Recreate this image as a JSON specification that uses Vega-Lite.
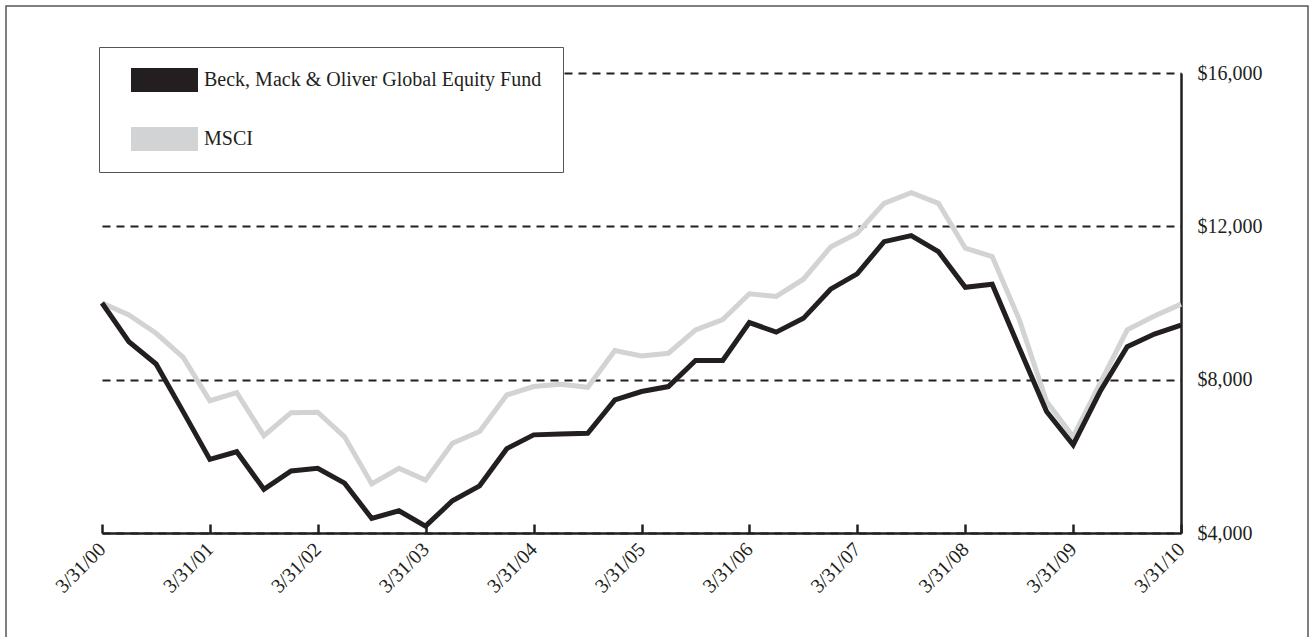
{
  "$schema": "https://vega.github.io/schema/vega-lite/v6.json",
  "width": 1302,
  "height": 640,
  "autosize": {"type": "none"},
  "padding": {"left": 6, "top": 6, "right": 5, "bottom": 0},
  "background": "white",
  "config": {
    "view": {"stroke": "#555555", "strokeWidth": 1.5},
    "font": "Liberation Serif",
    "axis": {"labelFont": "Liberation Serif", "labelColor": "#231f20", "domainColor": "#231f20", "tickColor": "#231f20"}
  },
  "data": {
    "values": [
      {"date": "2000-03-31", "series": "MSCI", "value": 10000},
      {"date": "2000-06-30", "series": "MSCI", "value": 9690},
      {"date": "2000-09-30", "series": "MSCI", "value": 9210},
      {"date": "2000-12-31", "series": "MSCI", "value": 8580},
      {"date": "2001-03-31", "series": "MSCI", "value": 7450},
      {"date": "2001-06-30", "series": "MSCI", "value": 7660},
      {"date": "2001-09-30", "series": "MSCI", "value": 6540},
      {"date": "2001-12-31", "series": "MSCI", "value": 7140},
      {"date": "2002-03-31", "series": "MSCI", "value": 7150},
      {"date": "2002-06-30", "series": "MSCI", "value": 6510},
      {"date": "2002-09-30", "series": "MSCI", "value": 5280},
      {"date": "2002-12-31", "series": "MSCI", "value": 5690},
      {"date": "2003-03-31", "series": "MSCI", "value": 5380},
      {"date": "2003-06-30", "series": "MSCI", "value": 6340},
      {"date": "2003-09-30", "series": "MSCI", "value": 6650},
      {"date": "2003-12-31", "series": "MSCI", "value": 7600},
      {"date": "2004-03-31", "series": "MSCI", "value": 7820},
      {"date": "2004-06-30", "series": "MSCI", "value": 7880},
      {"date": "2004-09-30", "series": "MSCI", "value": 7800},
      {"date": "2004-12-31", "series": "MSCI", "value": 8760},
      {"date": "2005-03-31", "series": "MSCI", "value": 8620},
      {"date": "2005-06-30", "series": "MSCI", "value": 8690},
      {"date": "2005-09-30", "series": "MSCI", "value": 9300},
      {"date": "2005-12-31", "series": "MSCI", "value": 9570},
      {"date": "2006-03-31", "series": "MSCI", "value": 10240},
      {"date": "2006-06-30", "series": "MSCI", "value": 10170},
      {"date": "2006-09-30", "series": "MSCI", "value": 10620},
      {"date": "2006-12-31", "series": "MSCI", "value": 11460},
      {"date": "2007-03-31", "series": "MSCI", "value": 11820},
      {"date": "2007-06-30", "series": "MSCI", "value": 12600},
      {"date": "2007-09-30", "series": "MSCI", "value": 12880},
      {"date": "2007-12-31", "series": "MSCI", "value": 12600},
      {"date": "2008-03-31", "series": "MSCI", "value": 11430},
      {"date": "2008-06-30", "series": "MSCI", "value": 11210},
      {"date": "2008-09-30", "series": "MSCI", "value": 9560},
      {"date": "2008-12-31", "series": "MSCI", "value": 7430},
      {"date": "2009-03-31", "series": "MSCI", "value": 6510},
      {"date": "2009-06-30", "series": "MSCI", "value": 7900},
      {"date": "2009-09-30", "series": "MSCI", "value": 9300},
      {"date": "2009-12-31", "series": "MSCI", "value": 9660},
      {"date": "2010-03-31", "series": "MSCI", "value": 9970},
      {"date": "2000-03-31", "series": "Beck, Mack & Oliver Global Equity Fund", "value": 10000},
      {"date": "2000-06-30", "series": "Beck, Mack & Oliver Global Equity Fund", "value": 8990},
      {"date": "2000-09-30", "series": "Beck, Mack & Oliver Global Equity Fund", "value": 8410},
      {"date": "2000-12-31", "series": "Beck, Mack & Oliver Global Equity Fund", "value": 7160},
      {"date": "2001-03-31", "series": "Beck, Mack & Oliver Global Equity Fund", "value": 5920},
      {"date": "2001-06-30", "series": "Beck, Mack & Oliver Global Equity Fund", "value": 6120},
      {"date": "2001-09-30", "series": "Beck, Mack & Oliver Global Equity Fund", "value": 5140},
      {"date": "2001-12-31", "series": "Beck, Mack & Oliver Global Equity Fund", "value": 5620},
      {"date": "2002-03-31", "series": "Beck, Mack & Oliver Global Equity Fund", "value": 5690},
      {"date": "2002-06-30", "series": "Beck, Mack & Oliver Global Equity Fund", "value": 5300},
      {"date": "2002-09-30", "series": "Beck, Mack & Oliver Global Equity Fund", "value": 4380},
      {"date": "2002-12-31", "series": "Beck, Mack & Oliver Global Equity Fund", "value": 4580},
      {"date": "2003-03-31", "series": "Beck, Mack & Oliver Global Equity Fund", "value": 4180},
      {"date": "2003-06-30", "series": "Beck, Mack & Oliver Global Equity Fund", "value": 4840},
      {"date": "2003-09-30", "series": "Beck, Mack & Oliver Global Equity Fund", "value": 5230},
      {"date": "2003-12-31", "series": "Beck, Mack & Oliver Global Equity Fund", "value": 6200},
      {"date": "2004-03-31", "series": "Beck, Mack & Oliver Global Equity Fund", "value": 6560},
      {"date": "2004-06-30", "series": "Beck, Mack & Oliver Global Equity Fund", "value": 6580},
      {"date": "2004-09-30", "series": "Beck, Mack & Oliver Global Equity Fund", "value": 6600},
      {"date": "2004-12-31", "series": "Beck, Mack & Oliver Global Equity Fund", "value": 7470},
      {"date": "2005-03-31", "series": "Beck, Mack & Oliver Global Equity Fund", "value": 7690},
      {"date": "2005-06-30", "series": "Beck, Mack & Oliver Global Equity Fund", "value": 7820},
      {"date": "2005-09-30", "series": "Beck, Mack & Oliver Global Equity Fund", "value": 8500},
      {"date": "2005-12-31", "series": "Beck, Mack & Oliver Global Equity Fund", "value": 8500},
      {"date": "2006-03-31", "series": "Beck, Mack & Oliver Global Equity Fund", "value": 9490},
      {"date": "2006-06-30", "series": "Beck, Mack & Oliver Global Equity Fund", "value": 9240},
      {"date": "2006-09-30", "series": "Beck, Mack & Oliver Global Equity Fund", "value": 9600},
      {"date": "2006-12-31", "series": "Beck, Mack & Oliver Global Equity Fund", "value": 10360},
      {"date": "2007-03-31", "series": "Beck, Mack & Oliver Global Equity Fund", "value": 10760},
      {"date": "2007-06-30", "series": "Beck, Mack & Oliver Global Equity Fund", "value": 11600},
      {"date": "2007-09-30", "series": "Beck, Mack & Oliver Global Equity Fund", "value": 11760},
      {"date": "2007-12-31", "series": "Beck, Mack & Oliver Global Equity Fund", "value": 11340},
      {"date": "2008-03-31", "series": "Beck, Mack & Oliver Global Equity Fund", "value": 10410},
      {"date": "2008-06-30", "series": "Beck, Mack & Oliver Global Equity Fund", "value": 10490},
      {"date": "2008-09-30", "series": "Beck, Mack & Oliver Global Equity Fund", "value": 8820},
      {"date": "2008-12-31", "series": "Beck, Mack & Oliver Global Equity Fund", "value": 7170},
      {"date": "2009-03-31", "series": "Beck, Mack & Oliver Global Equity Fund", "value": 6300},
      {"date": "2009-06-30", "series": "Beck, Mack & Oliver Global Equity Fund", "value": 7690},
      {"date": "2009-09-30", "series": "Beck, Mack & Oliver Global Equity Fund", "value": 8860},
      {"date": "2009-12-31", "series": "Beck, Mack & Oliver Global Equity Fund", "value": 9190},
      {"date": "2010-03-31", "series": "Beck, Mack & Oliver Global Equity Fund", "value": 9420}
    ]
  },
  "mark": {"type": "line", "strokeWidth": 5, "strokeJoin": "miter", "clip": false},
  "encoding": {
    "x": {
      "field": "date",
      "type": "temporal",
      "scale": {
        "type": "utc",
        "domain": [{"year": 2000, "month": 3, "date": 31, "utc": true}, {"year": 2010, "month": 3, "date": 31, "utc": true}],
        "range": [96, 1175],
        "nice": false
      },
      "axis": {
        "title": null,
        "format": "%-m/%d/%y",
        "values": [
          {"year": 2000, "month": 3, "date": 31, "utc": true},
          {"year": 2001, "month": 3, "date": 31, "utc": true},
          {"year": 2002, "month": 3, "date": 31, "utc": true},
          {"year": 2003, "month": 3, "date": 31, "utc": true},
          {"year": 2004, "month": 3, "date": 31, "utc": true},
          {"year": 2005, "month": 3, "date": 31, "utc": true},
          {"year": 2006, "month": 3, "date": 31, "utc": true},
          {"year": 2007, "month": 3, "date": 31, "utc": true},
          {"year": 2008, "month": 3, "date": 31, "utc": true},
          {"year": 2009, "month": 3, "date": 31, "utc": true},
          {"year": 2010, "month": 3, "date": 31, "utc": true}
        ],
        "grid": false,
        "offset": -113,
        "domainWidth": 2.5,
        "tickWidth": 2.5,
        "tickSize": -9,
        "labelAngle": -45,
        "labelAlign": "right",
        "labelBaseline": "middle",
        "labelFontSize": 20,
        "labelPadding": 22,
        "labelOverlap": false,
        "labelFlush": false
      }
    },
    "y": {
      "field": "value",
      "type": "quantitative",
      "scale": {"domain": [4000, 16000], "range": [527, 67], "nice": false, "zero": false},
      "axis": {
        "orient": "left",
        "title": null,
        "values": [4000, 8000, 12000, 16000],
        "format": "$,.0f",
        "offset": -1175,
        "ticks": false,
        "labelPadding": -16,
        "labelFontSize": 20,
        "labelAlign": "left",
        "labelBaseline": "middle",
        "domainWidth": 2.5,
        "grid": true,
        "gridDash": [8, 6],
        "gridColor": "#231f20",
        "gridWidth": 2
      }
    },
    "color": {
      "field": "series",
      "type": "nominal",
      "scale": {
        "domain": ["Beck, Mack & Oliver Global Equity Fund", "MSCI"],
        "range": ["#231f20", "#d1d3d4"]
      },
      "legend": {
        "title": null,
        "orient": "none",
        "legendX": 93,
        "legendY": 41,
        "direction": "vertical",
        "symbolType": "M-2.792,-1H2.792V1H-2.792Z",
        "symbolSize": 576,
        "symbolStrokeWidth": 0,
        "symbolOffset": 32.5,
        "labelFont": "Liberation Serif",
        "labelFontSize": 20,
        "labelColor": "#231f20",
        "labelOffset": 27.5,
        "labelLimit": 500,
        "rowPadding": 35,
        "padding": 21,
        "strokeColor": "#555555",
        "fillColor": "white",
        "encode": {"symbols": {"update": {"fill": {"scale": "color", "field": "value"}}}}
      }
    }
  }
}
